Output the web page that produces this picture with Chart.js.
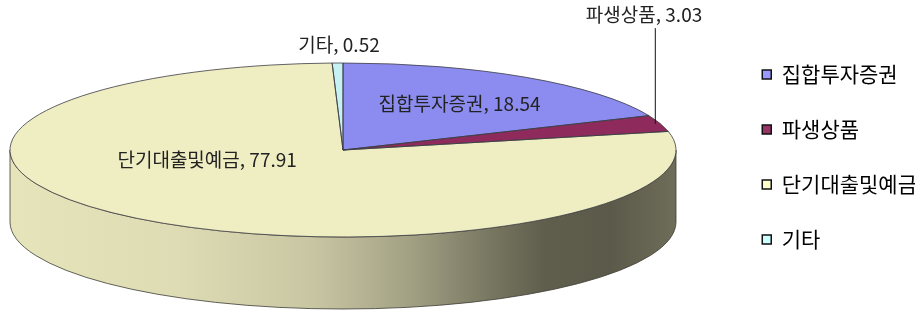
<!DOCTYPE html>
<html lang="ko">
<head>
  <meta charset="UTF-8">
  <title>자산 구성</title>
  <script src="https://cdn.jsdelivr.net/npm/chart.js"></script>
  <style>
    html, body { margin: 0; padding: 0; background: #fff; }
    #wrap { width: 915px; height: 318px; }
  </style>
</head>
<body>
  <div id="wrap"><canvas id="pie" width="915" height="318"></canvas></div>
  <script>
    // data
    const LABELS = ['집합투자증권', '파생상품', '단기대출및예금', '기타'];
    const VALUES = [18.54, 3.03, 77.91, 0.52];
    const TOP_COLORS = ['#8c8cf0', '#8f2b5c', '#efedc2', '#c6f2f4'];
    const LEGEND_COLORS = ['#9999ff', '#993366', '#ffffcc', '#ccffff'];

    // where the flattened pie sits on the canvas
    const VIEW = { cx: 343, cy: 150, rx: 333, ry: 87, depth: 72 };
    // label anchors in units of rx / ry from the centre
    const LABEL_AT = [[0.35, -0.53], [0.904, -1.55], [-0.408, 0.115], [-0.012, -1.21]];
    const FONT = '"Noto Sans CJK KR", "Noto Sans", sans-serif';

    function shade(hex, f) {
      const n = parseInt(hex.slice(1), 16);
      const r = Math.round(((n >> 16) & 255) * f);
      const g = Math.round(((n >> 8) & 255) * f);
      const b = Math.round((n & 255) * f);
      return `rgb(${r},${g},${b})`;
    }

    function wallPath(ctx, a0, a1) {
      const { cx, cy, rx, ry, depth } = VIEW;
      ctx.beginPath();
      ctx.ellipse(cx, cy, rx, ry, 0, a0, a1, false);
      ctx.lineTo(cx + rx * Math.cos(a1), cy + depth + ry * Math.sin(a1));
      ctx.ellipse(cx, cy + depth, rx, ry, 0, a1, a0, true);
      ctx.closePath();
    }

    const pie3d = {
      id: 'pie3d',
      beforeDatasetsDraw(chart) {
        const ctx = chart.ctx;
        const arcs = chart.getDatasetMeta(0).data;
        const { cx, rx } = VIEW;
        // side wall, front half only
        arcs.forEach((arc, i) => {
          let a0 = arc.startAngle, a1 = arc.endAngle;
          a0 = Math.max(a0, 0); a1 = Math.min(a1, Math.PI);
          if (a1 <= a0) return;
          const base = TOP_COLORS[i];
          const g = ctx.createLinearGradient(cx - rx, 0, cx + rx, 0);
          g.addColorStop(0, shade(base, 0.96));
          g.addColorStop(0.25, shade(base, 0.93));
          g.addColorStop(0.45, shade(base, 0.84));
          g.addColorStop(0.6, shade(base, 0.68));
          g.addColorStop(0.72, shade(base, 0.5));
          g.addColorStop(0.8, shade(base, 0.4));
          g.addColorStop(0.9, shade(base, 0.38));
          g.addColorStop(1, shade(base, 0.46));
          ctx.save();
          wallPath(ctx, a0, a1);
          ctx.fillStyle = g;
          ctx.fill();
          ctx.lineWidth = 0.8;
          ctx.strokeStyle = '#3c3c34';
          ctx.stroke();
          ctx.restore();
        });
        // flatten the library's round pie onto the ellipse
        const a = arcs[0];
        const R = a.outerRadius;
        ctx.save();
        ctx.translate(VIEW.cx, VIEW.cy);
        ctx.scale(VIEW.rx / R, VIEW.ry / R);
        ctx.translate(-a.x, -a.y);
      },
      afterDatasetsDraw(chart) {
        const ctx = chart.ctx;
        ctx.restore();
        const { cx, cy, rx, ry } = VIEW;
        const arcs = chart.getDatasetMeta(0).data;
        ctx.save();
        ctx.lineWidth = 0.8;
        ctx.strokeStyle = '#3c3c44';
        arcs.forEach(arc => {
          ctx.beginPath();
          ctx.moveTo(cx, cy);
          ctx.ellipse(cx, cy, rx, ry, 0, arc.startAngle, arc.endAngle, false);
          ctx.closePath();
          ctx.stroke();
        });
        ctx.restore();
      },
      afterDraw(chart) {
        const ctx = chart.ctx;
        const { cx, cy, rx, ry } = VIEW;
        const arcs = chart.getDatasetMeta(0).data;
        ctx.save();
        ctx.font = '19px ' + FONT;
        ctx.fillStyle = '#222';
        ctx.textAlign = 'center';
        ctx.textBaseline = 'middle';
        arcs.forEach((arc, i) => {
          const [fx, fy] = LABEL_AT[i];
          const x = cx + fx * rx, y = cy + fy * ry;
          ctx.fillText(`${LABELS[i]}, ${VALUES[i].toFixed(2)}`, x, y);
          if (fy < -1.4) {
            // leader line down to the slice edge
            const mid = (arc.startAngle + arc.endAngle) / 2;
            const ex = cx + rx * 0.985 * Math.cos(mid);
            const ey = cy + ry * 0.985 * Math.sin(mid);
            ctx.beginPath();
            ctx.moveTo(ex, y + 13);
            ctx.lineTo(ex, ey);
            ctx.lineWidth = 1;
            ctx.strokeStyle = '#111';
            ctx.stroke();
          }
        });
        ctx.restore();
      }
    };

    new Chart(document.getElementById('pie'), {
      type: 'pie',
      data: {
        labels: LABELS,
        datasets: [{
          data: VALUES,
          backgroundColor: TOP_COLORS,
          borderWidth: 0,
          clip: false
        }]
      },
      options: {
        responsive: false,
        animation: false,
        events: [],
        layout: { padding: { right: -12, top: -4 } },
        plugins: {
          tooltip: { enabled: false },
          legend: {
            position: 'right',
            labels: {
              boxWidth: 9,
              boxHeight: 9,
              padding: 34,
              color: '#222',
              font: { family: FONT, size: 21 },
              generateLabels: () => LABELS.map((t, i) => ({
                text: t,
                fillStyle: LEGEND_COLORS[i],
                strokeStyle: '#111',
                lineWidth: 1.5,
                hidden: false,
                index: i
              }))
            }
          }
        }
      },
      plugins: [pie3d]
    });
  </script>
</body>
</html>
